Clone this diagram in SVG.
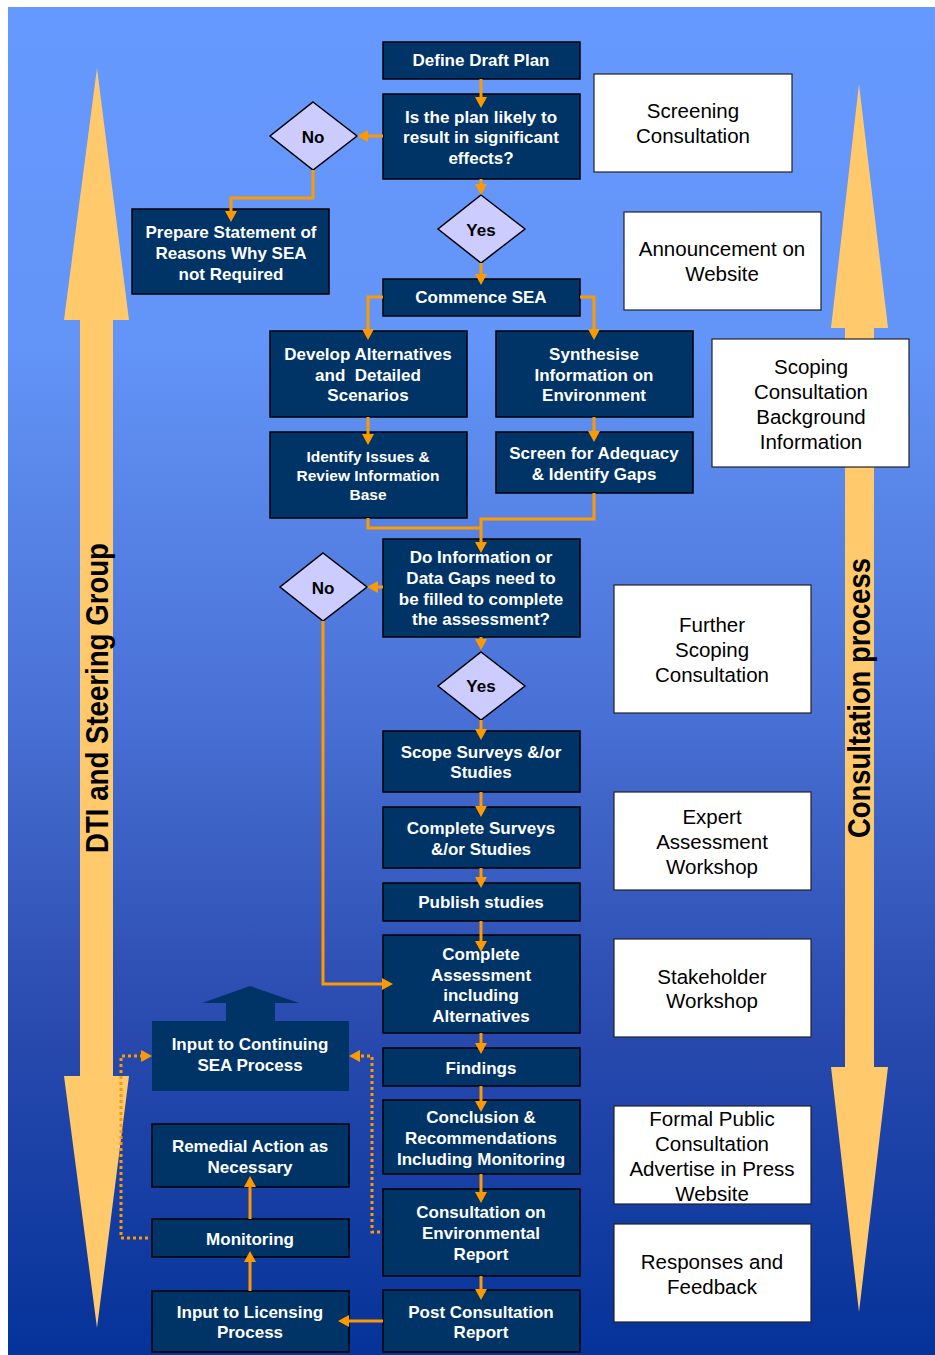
<svg xmlns="http://www.w3.org/2000/svg" width="935" height="1355" viewBox="0 0 935 1355">
<defs>
<linearGradient id="bg" x1="0" y1="7" x2="0" y2="1355" gradientUnits="userSpaceOnUse">
<stop offset="0" stop-color="#6699FF"/>
<stop offset="0.25" stop-color="#6394F7"/>
<stop offset="0.5" stop-color="#4C74D8"/>
<stop offset="0.75" stop-color="#2A4BB0"/>
<stop offset="1" stop-color="#053399"/>
</linearGradient>
<marker id="ah" viewBox="0 0 11 12" refX="3" refY="6" markerWidth="11" markerHeight="12" markerUnits="userSpaceOnUse" orient="auto">
<path d="M0,0 L11,6 L0,12 z" fill="#FF9900"/>
</marker>
</defs>
<style>
.box{fill:#003366;stroke:#000;stroke-width:1.5}
.wbox{fill:#fff;stroke:#222;stroke-width:1.2}
.dia{fill:#CCCCFF;stroke:#000;stroke-width:1.5}
.bt{font-family:"Liberation Sans",Arial,sans-serif;font-weight:bold;font-size:17px;fill:#fff;text-anchor:middle}
.st{font-size:15.5px}
.dt{font-family:"Liberation Sans",Arial,sans-serif;font-weight:bold;font-size:17px;fill:#000;text-anchor:middle}
.wt{font-family:"Liberation Sans",Arial,sans-serif;font-size:20.5px;fill:#000;text-anchor:middle}
.vt{font-family:"Liberation Sans",Arial,sans-serif;font-weight:bold;font-size:31px;fill:#000;text-anchor:middle}
.big{fill:#FFC96C}
.con{fill:none;stroke:#FF9900;stroke-width:3;marker-end:url(#ah)}
.plain{fill:none;stroke:#FF9900;stroke-width:3}
.dot{fill:none;stroke:#FF9900;stroke-width:3;stroke-dasharray:3 3;marker-end:url(#ah)}
</style>
<rect x="0" y="0" width="935" height="1355" fill="#fff"/>
<rect x="8" y="7" width="927" height="1348" fill="url(#bg)"/>

<g id="arrow-dti">
<polygon class="big" points="97,68 129,320 113,320 113,1076 129,1076 97,1328 64,1076 80,1076 80,320 64,320"/>
<text class="vt" transform="translate(108,698) rotate(-90)" textLength="310" lengthAdjust="spacingAndGlyphs">DTI and Steering Group</text>
</g>
<g id="arrow-consultation">
<polygon class="big" points="859,84 888,328 874,328 874,1067 888,1067 859,1312 831,1067 845,1067 845,328 831,328"/>
<text class="vt" transform="translate(870,698) rotate(-90)" textLength="280" lengthAdjust="spacingAndGlyphs">Consultation process</text>
</g>

<g id="n-define"><rect class="box" x="383" y="42" width="197" height="37"/><text class="bt" x="481" y="66">Define Draft Plan</text></g>
<g id="n-likely"><rect class="box" x="383" y="94" width="197" height="85"/><text class="bt" x="481" y="123">Is the plan likely to</text><text class="bt" x="481" y="143">result in significant</text><text class="bt" x="481" y="164">effects?</text></g>
<g id="n-no1"><polygon class="dia" points="313,102 357,136 313,170 270,136"/><text class="dt" x="313" y="143">No</text></g>
<g id="n-yes1"><polygon class="dia" points="481,195 525,229 481,263 438,229"/><text class="dt" x="481" y="236">Yes</text></g>
<g id="n-prepare"><rect class="box" x="132" y="209" width="197" height="85"/><text class="bt" x="231" y="238">Prepare Statement of</text><text class="bt" x="231" y="259">Reasons Why SEA</text><text class="bt" x="231" y="280">not Required</text></g>
<g id="n-commence"><rect class="box" x="383" y="279" width="197" height="37"/><text class="bt" x="481" y="303">Commence SEA</text></g>
<g id="n-develop"><rect class="box" x="270" y="331" width="197" height="86"/><text class="bt" x="368" y="360">Develop Alternatives</text><text class="bt" x="368" y="381" xml:space="preserve">and  Detailed</text><text class="bt" x="368" y="401">Scenarios</text></g>
<g id="n-synth"><rect class="box" x="496" y="331" width="197" height="86"/><text class="bt" x="594" y="360">Synthesise</text><text class="bt" x="594" y="381">Information on</text><text class="bt" x="594" y="401">Environment</text></g>
<g id="n-identify"><rect class="box" x="270" y="432" width="197" height="86"/><text class="bt st" x="368" y="462">Identify Issues &amp;</text><text class="bt st" x="368" y="481">Review Information</text><text class="bt st" x="368" y="500">Base</text></g>
<g id="n-screen"><rect class="box" x="496" y="432" width="197" height="61"/><text class="bt" x="594" y="459">Screen for Adequacy</text><text class="bt" x="594" y="480">&amp; Identify Gaps</text></g>
<g id="n-gaps"><rect class="box" x="383" y="539" width="197" height="98"/><text class="bt" x="481" y="563">Do Information or</text><text class="bt" x="481" y="584">Data Gaps need to</text><text class="bt" x="481" y="605">be filled to complete</text><text class="bt" x="481" y="625">the assessment?</text></g>
<g id="n-no2"><polygon class="dia" points="323,553 367,587 323,621 280,587"/><text class="dt" x="323" y="594">No</text></g>
<g id="n-yes2"><polygon class="dia" points="481,652 525,686 481,720 438,686"/><text class="dt" x="481" y="692">Yes</text></g>
<g id="n-scope"><rect class="box" x="383" y="731" width="197" height="61"/><text class="bt" x="481" y="758">Scope Surveys &amp;/or</text><text class="bt" x="481" y="778">Studies</text></g>
<g id="n-complete-surveys"><rect class="box" x="383" y="807" width="197" height="61"/><text class="bt" x="481" y="834">Complete Surveys</text><text class="bt" x="481" y="855">&amp;/or Studies</text></g>
<g id="n-publish"><rect class="box" x="383" y="883" width="197" height="38"/><text class="bt" x="481" y="908">Publish studies</text></g>
<g id="n-assessment"><rect class="box" x="383" y="935" width="197" height="98"/><text class="bt" x="481" y="960">Complete</text><text class="bt" x="481" y="981">Assessment</text><text class="bt" x="481" y="1001">including</text><text class="bt" x="481" y="1022">Alternatives</text></g>
<g id="n-findings"><rect class="box" x="383" y="1048" width="197" height="38"/><text class="bt" x="481" y="1074">Findings</text></g>
<g id="n-conclusion"><rect class="box" x="383" y="1100" width="197" height="74"/><text class="bt" x="481" y="1123">Conclusion &amp;</text><text class="bt" x="481" y="1144">Recommendations</text><text class="bt" x="481" y="1165">Including Monitoring</text></g>
<g id="n-consultation-er"><rect class="box" x="383" y="1189" width="197" height="87"/><text class="bt" x="481" y="1218">Consultation on</text><text class="bt" x="481" y="1239">Environmental</text><text class="bt" x="481" y="1260">Report</text></g>
<g id="n-post"><rect class="box" x="383" y="1290" width="197" height="62"/><text class="bt" x="481" y="1318">Post Consultation</text><text class="bt" x="481" y="1338">Report</text></g>
<g id="n-continuing"><polygon points="226,1021 226,1003 202,1003 250,986 299,1003 275,1003 275,1021" fill="#003366"/><rect x="152" y="1021" width="197" height="70" fill="#003366"/><text class="bt" x="250" y="1050">Input to Continuing</text><text class="bt" x="250" y="1071">SEA Process</text></g>
<g id="n-remedial"><rect class="box" x="152" y="1124" width="197" height="63"/><text class="bt" x="250" y="1152">Remedial Action as</text><text class="bt" x="250" y="1173">Necessary</text></g>
<g id="n-monitoring"><rect class="box" x="152" y="1219" width="197" height="38"/><text class="bt" x="250" y="1245">Monitoring</text></g>
<g id="n-licensing"><rect class="box" x="152" y="1291" width="197" height="61"/><text class="bt" x="250" y="1318">Input to Licensing</text><text class="bt" x="250" y="1338">Process</text></g>

<g id="n-screening-consultation"><rect class="wbox" x="594" y="74" width="198" height="98"/><text class="wt" x="693" y="118">Screening</text><text class="wt" x="693" y="143">Consultation</text></g>
<g id="n-announcement"><rect class="wbox" x="624" y="212" width="197" height="98"/><text class="wt" x="722" y="256">Announcement on</text><text class="wt" x="722" y="281">Website</text></g>
<g id="n-scoping"><rect class="wbox" x="712" y="339" width="197" height="128"/><text class="wt" x="811" y="374">Scoping</text><text class="wt" x="811" y="399">Consultation</text><text class="wt" x="811" y="424">Background</text><text class="wt" x="811" y="449">Information</text></g>
<g id="n-further"><rect class="wbox" x="614" y="585" width="197" height="128"/><text class="wt" x="712" y="632">Further</text><text class="wt" x="712" y="657">Scoping</text><text class="wt" x="712" y="682">Consultation</text></g>
<g id="n-expert"><rect class="wbox" x="614" y="792" width="197" height="98"/><text class="wt" x="712" y="824">Expert</text><text class="wt" x="712" y="849">Assessment</text><text class="wt" x="712" y="874">Workshop</text></g>
<g id="n-stakeholder"><rect class="wbox" x="614" y="939" width="197" height="98"/><text class="wt" x="712" y="984">Stakeholder</text><text class="wt" x="712" y="1008">Workshop</text></g>
<g id="n-formal"><rect class="wbox" x="614" y="1106" width="197" height="98"/><text class="wt" x="712" y="1126">Formal Public</text><text class="wt" x="712" y="1151">Consultation</text><text class="wt" x="712" y="1176">Advertise in Press</text><text class="wt" x="712" y="1201">Website</text></g>
<g id="n-responses"><rect class="wbox" x="614" y="1224" width="197" height="98"/><text class="wt" x="712" y="1269">Responses and</text><text class="wt" x="712" y="1294">Feedback</text></g>

<g id="connectors">
<path class="con" d="M481,79 V100"/>
<path class="con" d="M383,136 H365"/>
<path class="con" d="M481,179 V187"/>
<path class="con" d="M313,170 V198 H231 V214"/>
<path class="con" d="M481,263 V277"/>
<path class="con" d="M383,297 H368 V332"/>
<path class="con" d="M580,297 H594 V332"/>
<path class="con" d="M368,417 V437"/>
<path class="con" d="M594,417 V434"/>
<path class="plain" d="M368,518 V528 H481"/>
<path class="con" d="M594,493 V519 H481 V545"/>
<path class="con" d="M383,587 H375"/>
<path class="con" d="M323,621 V984 H385"/>
<path class="con" d="M481,637 V642"/>
<path class="con" d="M481,720 V732"/>
<path class="con" d="M481,792 V809"/>
<path class="con" d="M481,868 V880"/>
<path class="con" d="M481,921 V944"/>
<path class="con" d="M481,1033 V1046"/>
<path class="con" d="M481,1086 V1104"/>
<path class="con" d="M481,1174 V1195"/>
<path class="con" d="M481,1276 V1292"/>
<path class="con" d="M383,1321 H346"/>
<path class="con" d="M250,1291 V1259"/>
<path class="con" d="M250,1219 V1184"/>
<path class="dot" d="M148,1238 H121 V1056 H144"/>
<path class="dot" d="M380,1232 H372 V1056 H357"/>
</g>
</svg>
